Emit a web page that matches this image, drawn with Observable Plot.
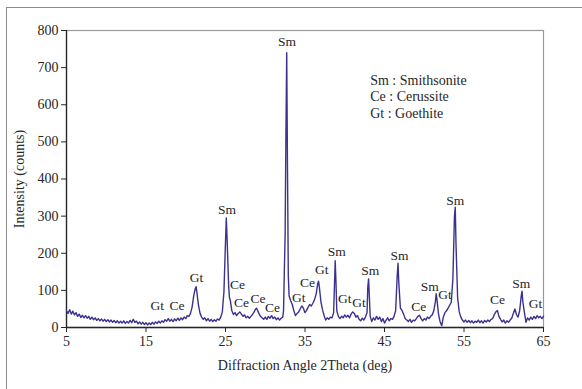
<!DOCTYPE html>
<html>
<head>
<meta charset="utf-8">
<script src="https://cdn.jsdelivr.net/npm/d3@7"></script>
<script src="https://cdn.jsdelivr.net/npm/@observablehq/plot@0.6"></script>
<style>
  html, body { margin: 0; padding: 0; background: #fff; overflow: hidden; }
  #wrap { position: relative; width: 582px; height: 389px; overflow: hidden; }
  #sheet { position: absolute; left: 6px; top: 7px; width: 620px; height: 420px;
           border-left: 1.5px solid #8c8c8c; border-top: 1.5px solid #8c8c8c; }
  #chart { position: absolute; left: 0; top: 0; }
</style>
</head>
<body>
<div id="wrap"><div id="sheet"></div><div id="chart"></div></div>
<script>
// Diffraction angle 2θ (deg)
const twoTheta = [
  5.0,5.2,5.4,5.6,5.8,6.0,6.2,6.4,6.6,6.8,7.0,7.2,7.4,7.6,7.8,8.0,8.2,8.4,8.6,8.8,
  9.0,9.2,9.4,9.6,9.8,10.0,10.2,10.4,10.6,10.8,11.0,11.2,11.4,11.6,11.8,12.0,12.2,12.4,12.6,12.8,
  13.0,13.2,13.4,13.6,13.8,14.0,14.2,14.4,14.6,14.8,15.0,15.2,15.4,15.6,15.8,16.0,16.2,16.4,16.6,16.8,
  17.0,17.2,17.4,17.6,17.8,18.0,18.2,18.4,18.6,18.8,19.0,19.2,19.4,19.6,19.8,20.0,20.2,20.4,20.6,20.8,
  21.0,21.2,21.3,21.4,21.6,21.8,22.0,22.2,22.4,22.6,22.8,23.0,23.2,23.4,23.6,23.8,24.0,24.2,24.4,24.6,
  24.8,25.0,25.1,25.2,25.4,25.5,25.6,25.8,26.0,26.2,26.4,26.6,26.8,27.0,27.2,27.4,27.6,27.8,28.0,28.2,
  28.4,28.6,28.8,28.9,29.0,29.2,29.4,29.6,29.8,30.0,30.2,30.4,30.6,30.8,31.0,31.2,31.4,31.6,31.8,32.0,
  32.2,32.3,32.4,32.5,32.6,32.7,32.8,32.9,33.0,33.2,33.4,33.6,33.8,34.0,34.2,34.4,34.6,34.8,35.0,35.2,
  35.4,35.6,35.8,36.0,36.2,36.4,36.6,36.7,36.8,37.0,37.2,37.4,37.6,37.8,38.0,38.2,38.4,38.6,38.7,38.8,
  38.9,39.0,39.2,39.4,39.6,39.8,40.0,40.2,40.4,40.6,40.8,41.0,41.2,41.4,41.6,41.8,42.0,42.2,42.4,42.6,
  42.8,42.9,43.0,43.1,43.2,43.4,43.6,43.8,44.0,44.2,44.4,44.6,44.8,45.0,45.2,45.4,45.6,45.8,46.0,46.2,
  46.4,46.6,46.7,46.8,47.0,47.2,47.4,47.6,47.8,48.0,48.2,48.4,48.6,48.8,49.0,49.2,49.4,49.6,49.8,50.0,
  50.2,50.4,50.6,50.8,51.0,51.2,51.4,51.5,51.6,51.8,52.0,52.2,52.4,52.6,52.8,53.0,53.2,53.4,53.6,53.8,
  53.9,54.0,54.2,54.4,54.6,54.8,55.0,55.2,55.4,55.6,55.8,56.0,56.2,56.4,56.6,56.8,57.0,57.2,57.4,57.6,
  57.8,58.0,58.2,58.4,58.6,58.8,59.0,59.2,59.4,59.6,59.8,60.0,60.2,60.4,60.6,60.8,61.0,61.2,61.4,61.6,
  61.8,62.0,62.2,62.3,62.4,62.6,62.8,63.0,63.2,63.4,63.6,63.8,64.0,64.2,64.4,64.6,64.8,65.0
];

// Intensity (counts)
const counts = [
  45,38,48,36,44,34,40,30,36,27,33,26,32,25,30,22,28,21,26,19,
  24,18,23,17,22,16,21,15,20,14,19,13,18,12,17,12,18,11,16,12,
  19,13,22,14,17,10,15,9,14,8,13,7,12,8,14,9,15,11,17,12,
  18,14,21,17,24,17,22,16,23,18,25,19,26,21,28,24,32,30,38,55,
  85,105,110,95,60,38,28,22,26,18,24,17,22,16,21,17,23,20,28,42,
  95,230,295,240,110,80,74,45,35,40,32,38,42,36,30,34,26,30,25,30,
  35,42,50,52,48,38,30,26,22,28,22,30,25,32,24,28,21,26,20,25,
  28,45,150,250,520,740,420,140,85,72,62,45,32,38,42,50,58,52,40,46,
  55,62,58,66,75,90,118,125,110,70,48,32,20,26,22,28,26,40,110,180,
  120,45,30,24,30,26,34,28,33,26,36,42,38,28,32,22,18,25,20,28,
  40,110,131,80,30,16,26,20,30,22,28,16,24,12,20,26,18,24,22,30,
  45,140,173,120,52,46,36,24,20,16,22,14,20,18,24,30,33,24,18,24,
  20,28,24,30,34,45,70,91,75,35,15,5,28,40,45,52,60,68,130,300,
  324,220,80,42,28,20,15,20,14,19,13,18,12,17,14,20,13,18,12,19,
  15,20,16,22,24,34,42,46,30,22,15,20,12,18,14,20,25,38,50,35,
  28,45,85,98,70,40,14,26,20,28,22,30,24,32,26,30,24,30
];

// Phase labels over the peaks
const peakPhase = ["Gt","Ce","Gt","Sm","Ce","Ce","Ce","Ce","Sm","Gt","Ce","Gt","Sm","Gt","Gt","Sm","Sm","Ce","Sm","Gt","Sm","Ce","Sm","Gt"];
const peakAngle = [16.4,18.9,21.35,25.2,26.5,27.0,29.1,30.9,32.75,34.2,35.3,37.1,39.0,40.0,41.8,43.2,46.9,49.3,50.7,52.6,53.9,59.2,62.2,64.0];
const peakLevel = [59,59,134,318,116,66,77,53,770,80,121,155,203,77,68,154,194,57,111,89,342,75,118,64];

// Phase key
const keyLines = ["Sm : Smithsonite", "Ce : Cerussite", "Gt : Goethite"];
const keyAngle = 43.2;
const keyLevel = [666, 621, 577];

const xTicks = [5, 15, 25, 35, 45, 55, 65];
const yTicks = [0, 100, 200, 300, 400, 500, 600, 700, 800];

const pattern = twoTheta.map((t, i) => ({t, c: counts[i]}));
const peaks = peakPhase.map((p, i) => ({p, t: peakAngle[i], c: peakLevel[i]}));
const key = keyLines.map((s, i) => ({s, t: keyAngle, c: keyLevel[i]}));

const font = "'Liberation Serif', 'Times New Roman', serif";
const ink = "#262626";

const chart = Plot.plot({
  width: 582,
  height: 389,
  marginLeft: 66,
  marginRight: 39,
  marginTop: 30,
  marginBottom: 62,
  style: {fontFamily: font, fontSize: "14px", color: ink, background: "transparent"},
  x: {domain: [5, 65]},
  y: {domain: [0, 800]},
  marks: [
    Plot.frame({stroke: "#9a9a9a", strokeWidth: 1.2}),
    Plot.axisX({ticks: xTicks, tickSize: 5, tickPadding: 4, stroke: ink, fontSize: 14,
      label: "Diffraction Angle 2Theta (deg)", labelAnchor: "center", labelArrow: "none", labelOffset: 42}),
    Plot.axisY({ticks: yTicks, tickSize: 5, tickPadding: 3, stroke: ink, fontSize: 14,
      label: "Intensity (counts)", labelAnchor: "center", labelArrow: "none", labelOffset: 52}),
    Plot.ruleX([5], {stroke: ink, strokeWidth: 1.3}),
    Plot.ruleY([0], {stroke: ink, strokeWidth: 1.3}),
    Plot.line(pattern, {x: "t", y: "c", stroke: "#3b3290", strokeWidth: 1.4, strokeLinejoin: "round"}),
    Plot.text(peaks, {x: "t", y: "c", text: "p", fill: ink, fontSize: 13.5}),
    Plot.text(key, {x: "t", y: "c", text: "s", fill: ink, fontSize: 14, textAnchor: "start"})
  ]
});
document.getElementById("chart").appendChild(chart);
</script>
</body>
</html>
